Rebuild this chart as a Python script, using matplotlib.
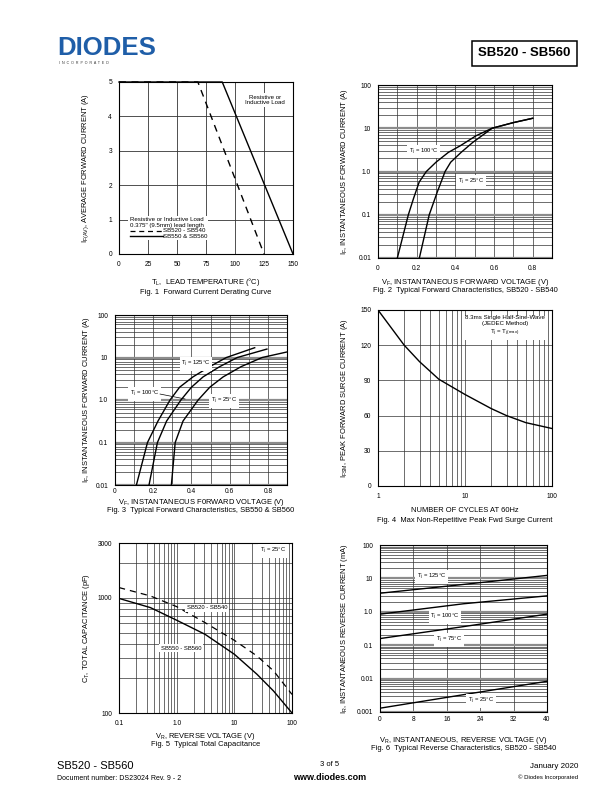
import matplotlib
matplotlib.use('Agg')
import matplotlib.pyplot as plt
from matplotlib.ticker import LogLocator, NullFormatter, MultipleLocator
from matplotlib.patches import Rectangle
from matplotlib.lines import Line2D

plt.rcParams['font.family'] = ['Liberation Sans', 'DejaVu Sans']
plt.rcParams['mathtext.default'] = 'regular'

# ---- data ----
# Fig. 1 derating
derate_temp_sb540 = [0, 68, 125]
derate_amp_sb540 = [5, 5, 0]
derate_temp_sb560 = [0, 89, 150]
derate_amp_sb560 = [5, 5, 0]

# Fig. 2 forward characteristics SB520-SB540
fwd2_vf_100 = [0.10, 0.157, 0.184, 0.213, 0.25, 0.30, 0.364, 0.424, 0.507, 0.59, 0.70, 0.80]
fwd2_if_100 = [0.01, 0.1, 0.24, 0.57, 1.0, 1.64, 2.77, 3.9, 6.7, 10, 13.5, 17]
fwd2_vf_25 = [0.214, 0.265, 0.307, 0.347, 0.376, 0.43, 0.49, 0.559, 0.59, 0.70, 0.80]
fwd2_if_25 = [0.01, 0.1, 0.34, 1.0, 1.64, 2.77, 4.7, 7.9, 10, 13.5, 17]

# Fig. 3 forward characteristics SB550 & SB560
fwd3_vf_125 = [0.112, 0.170, 0.225, 0.288, 0.338, 0.408, 0.496, 0.583, 0.731]
fwd3_if_125 = [0.01, 0.1, 0.32, 1.0, 2.0, 3.5, 6.1, 10, 17]
fwd3_vf_100 = [0.178, 0.222, 0.270, 0.345, 0.40, 0.461, 0.548, 0.640, 0.795]
fwd3_if_100 = [0.01, 0.1, 0.32, 1.0, 2.0, 3.5, 6.1, 10, 15.8]
fwd3_vf_25 = [0.295, 0.315, 0.356, 0.435, 0.496, 0.566, 0.660, 0.77, 0.90]
fwd3_if_25 = [0.01, 0.1, 0.32, 1.0, 2.0, 3.5, 6.1, 10, 13.5]

# Fig. 4 surge current
surge_cycles = [1, 2, 3, 5, 10, 20, 30, 50, 100]
surge_amp = [150, 120, 106, 91, 78, 66, 60, 54, 49]

# Fig. 5 capacitance
cap_vr = [0.1, 0.35, 1, 3.1, 10, 24.7, 48, 100]
cap_sb560 = [990, 824, 640, 483, 324, 217, 155, 100]
cap_sb540 = [1230, 1040, 840, 610, 428, 313, 232, 145]

# Fig. 6 reverse characteristics (mA)
rev_vr = [0, 20, 40]
rev_ir_125 = [3.6, 6.6, 12.3]
rev_ir_100 = [0.85, 1.74, 3.0]
rev_ir_75 = [0.158, 0.36, 0.85]
rev_ir_25 = [0.0013, 0.0033, 0.0083]

W, H = 612, 792
TICK = 4.8
LAB = 5.4
NOTE = 4.2


def px(x, y):
    return x / W, 1 - y / H


def box(l, t, r, b):
    return [l / W, 1 - b / H, (r - l) / W, (b - t) / H]


def setup(ax, xpad=5):
    for s in ax.spines.values():
        s.set_linewidth(0.8)
    ax.tick_params(which='both', length=0, labelsize=TICK, pad=5)
    ax.tick_params(axis='x', which='both', pad=xpad)


def log_y(ax, thick=True):
    ax.yaxis.set_minor_locator(LogLocator(base=10, subs=range(2, 10)))
    ax.yaxis.set_minor_formatter(NullFormatter())
    if thick:
        ax.grid(True, which='major', axis='y', color='#8c8c8c', lw=1.6)
    else:
        ax.grid(True, which='major', axis='y', color='#333333', lw=0.5)
    ax.grid(True, which='minor', axis='y', color='#333333', lw=0.5)


def log_x(ax):
    ax.xaxis.set_minor_locator(LogLocator(base=10, subs=range(2, 10)))
    ax.xaxis.set_minor_formatter(NullFormatter())
    ax.grid(True, which='both', axis='x', color='#333333', lw=0.5)


def labels(l, r, t, b, ylab, xlab, cap, ylx, xly, capy):
    fig.text(*px(ylx, (t + b) / 2), ylab, rotation=90, ha='center', va='center', fontsize=LAB)
    fig.text(*px((l + r) / 2, xly), xlab, ha='center', va='center', fontsize=LAB)
    fig.text(*px((l + r) / 2, capy), cap, ha='center', va='center', fontsize=LAB)


def note(ax, x, y, s, size=NOTE, **kw):
    ax.text(x, y, s, transform=ax.transAxes, ha='center', va='center', fontsize=size,
            bbox=dict(facecolor='white', edgecolor='none', pad=1.2), zorder=4, **kw)


fig = plt.figure(figsize=(6.12, 7.92), dpi=100)

# ---- header ----
fig.text(*px(57, 48), 'DIODES', color='#1f5ea8', fontsize=18.5, fontweight='bold',
         ha='left', va='center')
fig.text(*px(59, 63.5), 'I  N  C  O  R  P  O  R  A  T  E  D', color='#333333', fontsize=2.6,
         ha='left', va='center')
fig.add_artist(Rectangle(px(472, 66), 105 / W, 25 / H, transform=fig.transFigure,
                         fill=False, lw=1.1, edgecolor='black'))
fig.text(*px(524.5, 53.5), 'SB520 - SB560', fontsize=9.5, fontweight='bold',
         ha='center', va='center')

# ---- Fig. 1 ----
l, t, r, b = 119, 82, 293, 254
ax1 = fig.add_axes(box(l, t, r, b))
setup(ax1)
ax1.plot(derate_temp_sb560, derate_amp_sb560, color='black', lw=1.0, clip_on=False)
ax1.plot(derate_temp_sb540, derate_amp_sb540, color='black', lw=1.0, ls=(0, (5, 4)), clip_on=False)
ax1.set_xlim(0, 150)
ax1.set_ylim(0, 5)
ax1.set_xticks([0, 25, 50, 75, 100, 125, 150])
ax1.set_yticks([0, 1, 2, 3, 4, 5])
ax1.grid(True, color='#333333', lw=0.6)
note(ax1, 0.84, 0.895, 'Resistive or\nInductive Load', size=4.4, linespacing=1.2)
ax1.add_patch(Rectangle((0.052, 0.08), 0.46, 0.14, transform=ax1.transAxes,
                        facecolor='white', edgecolor='none', zorder=3))
ax1.text(0.063, 0.198, 'Resistive or Inductive Load', transform=ax1.transAxes,
         fontsize=4.4, va='center', zorder=4)
ax1.text(0.063, 0.163, '0.375" (9.5mm) lead length', transform=ax1.transAxes,
         fontsize=4.4, va='center', zorder=4)
ax1.add_line(Line2D([0.063, 0.25], [0.135, 0.135], transform=ax1.transAxes, color='black',
                    lw=0.9, ls=(0, (4, 3)), zorder=4))
ax1.add_line(Line2D([0.063, 0.25], [0.103, 0.103], transform=ax1.transAxes, color='black',
                    lw=1.0, zorder=4))
ax1.text(0.255, 0.135, 'SB520 - SB540', transform=ax1.transAxes, fontsize=4.4, va='center', zorder=4)
ax1.text(0.255, 0.103, 'SB550 & SB560', transform=ax1.transAxes, fontsize=4.4, va='center', zorder=4)
labels(l, r, t, b, '$I_{F(AV)}$, AVERAGE FORWARD CURRENT (A)', '$T_L$,  LEAD TEMPERATURE (°C)',
       'Fig. 1  Forward Current Derating Curve', 86, 282, 292)

# ---- Fig. 2 ----
l, t, r, b = 378, 85, 552, 258
ax2 = fig.add_axes(box(l, t, r, b))
setup(ax2)
ax2.set_yscale('log')
ax2.plot(fwd2_vf_100, fwd2_if_100, color='black', lw=1.0)
ax2.plot(fwd2_vf_25, fwd2_if_25, color='black', lw=1.0)
ax2.set_xlim(0, 0.9)
ax2.set_ylim(0.01, 100)
ax2.set_xticks([0, 0.2, 0.4, 0.6, 0.8], ['0', '0.2', '0.4', '0.6', '0.8'])
ax2.xaxis.set_minor_locator(MultipleLocator(0.1))
ax2.set_yticks([0.01, 0.1, 1, 10, 100], ['0.01', '0.1', '1.0', '10', '100'])
log_y(ax2)
ax2.grid(True, which='both', axis='x', color='#333333', lw=0.5)
note(ax2, 0.262, 0.615, '$T_j$ = 100°C')
note(ax2, 0.535, 0.439, '$T_j$ = 25°C')
labels(l, r, t, b, '$I_F$, INSTANTANEOUS FORWARD CURRENT (A)',
       '$V_F$, INSTANTANEOUS FORWARD VOLTAGE (V)',
       'Fig. 2  Typical Forward Characteristics, SB520 - SB540', 345, 282, 290.5)

# ---- Fig. 3 ----
l, t, r, b = 115, 315, 287, 485
ax3 = fig.add_axes(box(l, t, r, b))
setup(ax3, xpad=2.5)
ax3.set_yscale('log')
ax3.plot(fwd3_vf_125, fwd3_if_125, color='black', lw=1.0)
ax3.plot(fwd3_vf_100, fwd3_if_100, color='black', lw=1.0)
ax3.plot(fwd3_vf_25, fwd3_if_25, color='black', lw=1.0)
ax3.set_xlim(0, 0.9)
ax3.set_ylim(0.01, 100)
ax3.set_xticks([0, 0.2, 0.4, 0.6, 0.8], ['0', '0.2', '0.4', '0.6', '0.8'])
ax3.xaxis.set_minor_locator(MultipleLocator(0.1))
ax3.set_yticks([0.01, 0.1, 1, 10, 100], ['0.01', '0.1', '1.0', '10', '100'])
log_y(ax3)
ax3.grid(True, which='both', axis='x', color='#333333', lw=0.5)
note(ax3, 0.471, 0.712, '$T_j$ = 125°C')
note(ax3, 0.174, 0.535, '$T_j$ = 100°C')
note(ax3, 0.634, 0.494, '$T_j$ = 25°C')
ax3.add_line(Line2D([0.262, 0.407], [0.535, 0.506], transform=ax3.transAxes,
                    color='black', lw=0.5, zorder=4))
labels(l, r, t, b, '$I_F$, INSTANTANEOUS FORWARD CURRENT (A)',
       '$V_F$, INSTANTANEOUS F0RWARD VOLTAGE (V)',
       'Fig. 3  Typical Forward Characteristics, SB550 & SB560', 86, 502, 511)

# ---- Fig. 4 ----
l, t, r, b = 378, 310, 552, 486
ax4 = fig.add_axes(box(l, t, r, b))
setup(ax4)
ax4.set_xscale('log')
ax4.plot(surge_cycles, surge_amp, color='black', lw=1.0)
ax4.set_xlim(1, 100)
ax4.set_ylim(0, 150)
ax4.set_xticks([1, 10, 100], ['1', '10', '100'])
ax4.set_yticks([0, 30, 60, 90, 120, 150])
log_x(ax4)
ax4.grid(True, which='major', axis='y', color='#333333', lw=0.5)
note(ax4, 0.73, 0.905, '8.3ms Single Half-Sine-Wave\n(JEDEC Method)\n$T_j$ = $T_{j(max)}$',
     size=4.4, linespacing=1.3)
labels(l, r, t, b, '$I_{FSM}$, PEAK FORWARD SURGE CURRENT (A)',
       'NUMBER OF CYCLES AT 60Hz',
       'Fig. 4  Max Non-Repetitive Peak Fwd Surge Current', 345, 511, 520)

# ---- Fig. 5 ----
l, t, r, b = 119, 543, 292, 713
ax5 = fig.add_axes(box(l, t, r, b))
setup(ax5)
ax5.set_xscale('log')
ax5.set_yscale('log')
ax5.plot(cap_vr, cap_sb560, color='black', lw=1.0)
ax5.plot(cap_vr, cap_sb540, color='black', lw=0.9, ls=(0, (5, 4)))
ax5.set_xlim(0.1, 100)
ax5.set_ylim(100, 3000)
ax5.set_xticks([0.1, 1, 10, 100], ['0.1', '1.0', '10', '100'])
ax5.set_yticks([100, 1000, 3000], ['100', '1000', '3000'])
log_x(ax5)
log_y(ax5, thick=False)
note(ax5, 0.509, 0.618, 'SB520 - SB540')
note(ax5, 0.358, 0.382, 'SB550 - SB560')
note(ax5, 0.89, 0.953, '$T_j$ = 25°C')
labels(l, r, t, b, '$C_T$, TOTAL CAPACITANCE (pF)', '$V_R$, REVERSE VOLTAGE (V)',
       'Fig. 5  Typical Total Capacitance', 86, 736, 745)

# ---- Fig. 6 ----
l, t, r, b = 380, 545, 547, 712
ax6 = fig.add_axes(box(l, t, r, b))
setup(ax6, xpad=3)
ax6.set_yscale('log')
ax6.plot(rev_vr, rev_ir_125, color='black', lw=1.0)
ax6.plot(rev_vr, rev_ir_100, color='black', lw=1.0)
ax6.plot(rev_vr, rev_ir_75, color='black', lw=1.0)
ax6.plot(rev_vr, rev_ir_25, color='black', lw=1.0)
ax6.set_xlim(0, 40)
ax6.set_ylim(0.001, 100)
ax6.set_xticks([0, 8, 16, 24, 32, 40])
ax6.set_yticks([0.001, 0.01, 0.1, 1, 10, 100], ['0.001', '0.01', '0.1', '1.0', '10', '100'])
log_y(ax6)
ax6.grid(True, which='major', axis='x', color='#333333', lw=0.5)
note(ax6, 0.311, 0.808, '$T_j$ = 125°C')
note(ax6, 0.389, 0.569, '$T_j$ = 100°C')
note(ax6, 0.413, 0.431, '$T_j$ = 75°C')
note(ax6, 0.605, 0.066, '$T_j$ = 25°C')
labels(l, r, t, b, '$I_R$, INSTANTANEOUS REVERSE CURRENT (mA)',
       '$V_R$, INSTANTANEOUS, REVERSE VOLTAGE (V)',
       'Fig. 6  Typical Reverse Characteristics, SB520 - SB540', 344, 740, 749)

# ---- footer ----
fig.text(*px(57, 766), 'SB520 - SB560', fontsize=8, ha='left', va='center')
fig.text(*px(57, 778), 'Document number: DS23024 Rev. 9 - 2', fontsize=5, ha='left', va='center')
fig.text(*px(330, 765), '3 of 5', fontsize=5.5, ha='center', va='center')
fig.text(*px(330, 777), 'www.diodes.com', fontsize=6.5, fontweight='bold', ha='center', va='center')
fig.text(*px(578, 766), 'January 2020', fontsize=5.8, ha='right', va='center')
fig.text(*px(578, 777), '© Diodes Incorporated', fontsize=4.3, ha='right', va='center')

fig.savefig('out.png', dpi=100)
